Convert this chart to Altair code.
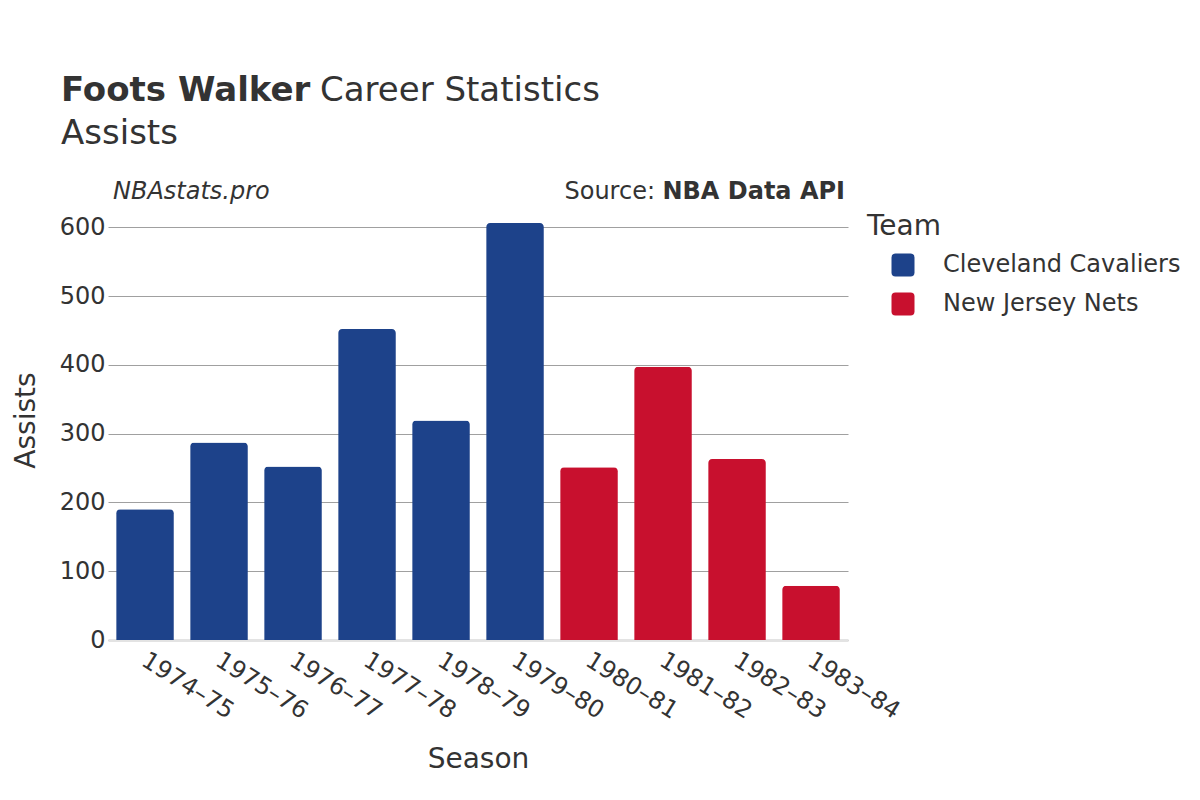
import altair as alt
import pandas as pd

seasons = ["1974–75", "1975–76", "1976–77", "1977–78", "1978–79",
           "1979–80", "1980–81", "1981–82", "1982–83", "1983–84"]
teams = ["Cleveland Cavaliers"] * 6 + ["New Jersey Nets"] * 4
assists = [190, 287, 252, 452, 319, 606, 251, 397, 263, 79]

team_names = ["Cleveland Cavaliers", "New Jersey Nets"]
team_colors = ["#1d428a", "#c8102e"]

df = pd.DataFrame({"Season": seasons, "Team": teams, "Assists": assists})
one = pd.DataFrame({"k": [0]})

FONT = "DejaVu Sans"
TXT = "#333333"
rounded = ("M -0.65 -1 L 0.65 -1 Q 1 -1 1 -0.65 L 1 0.65 Q 1 1 0.65 1 "
           "L -0.65 1 Q -1 1 -1 0.65 L -1 -0.65 Q -1 -1 -0.65 -1 Z")

bars = alt.Chart(df).mark_bar(cornerRadiusTopLeft=4, cornerRadiusTopRight=4).encode(
    x=alt.X("Season:N", sort=seasons, title="Season",
            scale=alt.Scale(paddingInner=0.22, paddingOuter=0.11),
            axis=alt.Axis(labelAngle=32, labelAlign="left", labelBaseline="top",
                          labelPadding=8, labelOffset=5, ticks=False, domainColor="#e3e3e3",
                          domainWidth=3, labelFontSize=24, labelColor=TXT,
                          labelFont=FONT, titleFont=FONT, titleFontSize=28,
                          titleFontWeight="normal", titleColor=TXT, titlePadding=22)),
    y=alt.Y("Assists:Q", title="Assists",
            scale=alt.Scale(domain=[0, 625], nice=False),
            axis=alt.Axis(values=[0, 100, 200, 300, 400, 500, 600], ticks=False,
                          domain=False, grid=True, gridColor="#a0a0a0",
                          labelPadding=3, labelFontSize=24, labelColor=TXT,
                          labelFont=FONT, titleFont=FONT, titleFontSize=28,
                          titleFontWeight="normal", titleColor=TXT, titlePadding=19,
                          titleY=210)),
    color=alt.Color("Team:N", scale=alt.Scale(domain=team_names, range=team_colors),
                    legend=alt.Legend(title="Team", orient="none", legendX=759, legendY=3,
                                      titleFont=FONT, titleFontSize=28,
                                      titleFontWeight="normal", titleColor=TXT,
                                      titlePadding=12, labelFont=FONT, labelFontSize=24,
                                      labelColor=TXT, labelLimit=400, symbolType=rounded,
                                      symbolSize=529, symbolOffset=24, labelOffset=28,
                                      rowPadding=15, symbolStrokeWidth=0, symbolOpacity=1)),
)

def txt(s, x, y, size, weight="normal", style="normal", align="left"):
    return alt.Chart(one).mark_text(font=FONT, fontSize=size, fontWeight=weight,
                                    fontStyle=style, align=align, baseline="alphabetic",
                                    color=TXT).encode(
        x=alt.value(x), y=alt.value(y), text=alt.value(s))

layers = [
    bars,
    txt("Foots Walker", -47, -109, 34, weight="bold"),
    txt("Career Statistics", 212, -109, 34),
    txt("Assists", -47, -66, 34),
    txt("NBAstats.pro", 5, -11, 24, style="italic"),
    txt("NBA Data API", 737, -11, 24, weight="bold", align="right"),
    txt("Source:", 547, -11, 24, align="right"),
]

chart = alt.layer(*layers).properties(
    width=740, height=430,
    autosize=alt.AutoSizeParams(type="none"),
    padding={"left": 100, "top": 202, "right": 344, "bottom": 150},
).configure_view(stroke=None)

chart.save("out.html", embed_options={"renderer": "svg", "actions": False})
